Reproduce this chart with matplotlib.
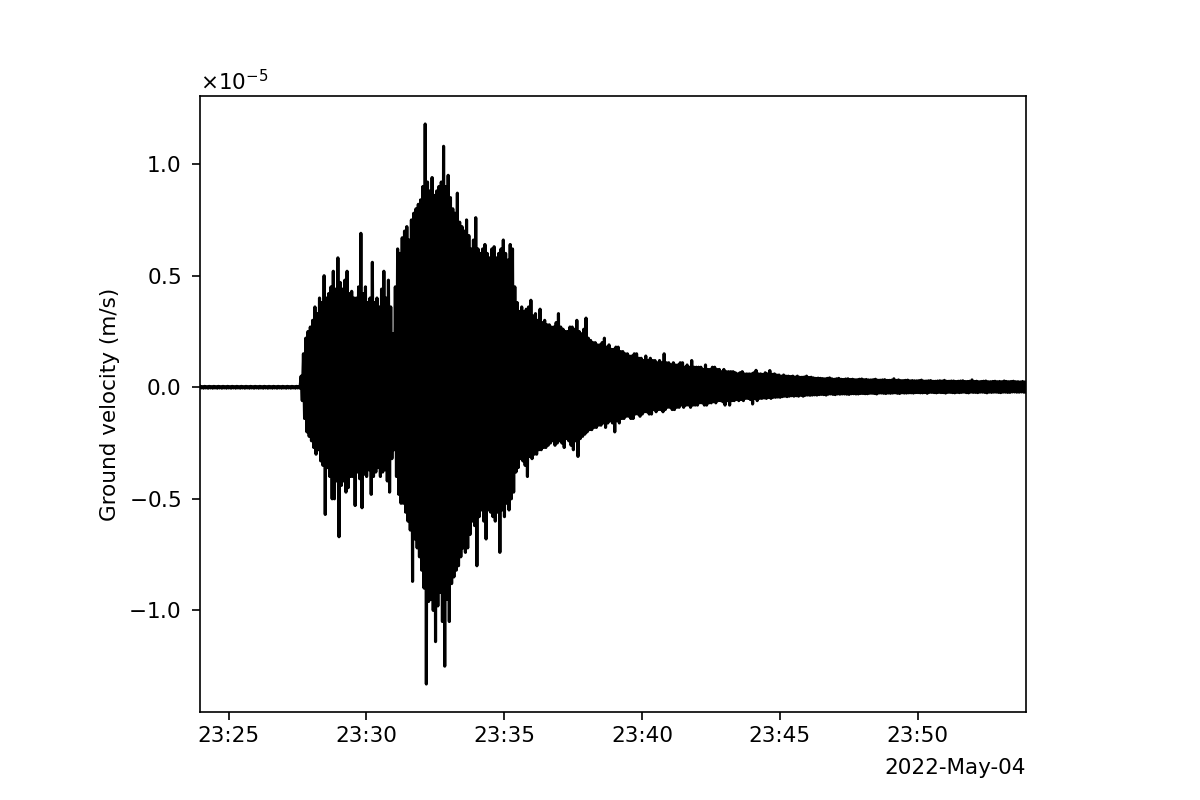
import numpy as np
import matplotlib
matplotlib.use("Agg")
import matplotlib.pyplot as plt
import matplotlib.dates as mdates


# trace start and spacing between successive positive peaks
start = np.datetime64("2022-05-04T23:23:58")
step_ms = 5000

# positive peaks of the trace (1e-5 m/s), one row per minute
upper = [
    0.004, 0.003, 0.004, 0.003, 0.004, 0.003, 0.004, 0.003, 0.004, 0.003, 0.004, 0.003,
    0.004, 0.003, 0.004, 0.003, 0.004, 0.003, 0.004, 0.003, 0.004, 0.003, 0.004, 0.003,
    0.004, 0.003, 0.004, 0.003, 0.004, 0.003, 0.004, 0.003, 0.004, 0.003, 0.004, 0.003,
    0.004, 0.003, 0.004, 0.003, 0.004, 0.003, 0.004, 0.003, 0.05, 0.15, 0.22, 0.25,
    0.27, 0.30, 0.36, 0.33, 0.40, 0.38, 0.50, 0.40, 0.42, 0.45, 0.52, 0.44,
    0.58, 0.47, 0.44, 0.48, 0.52, 0.42, 0.43, 0.40, 0.40, 0.45, 0.69, 0.42,
    0.45, 0.38, 0.40, 0.56, 0.38, 0.40, 0.36, 0.44, 0.52, 0.40, 0.48, 0.36,
    0.24, 0.45, 0.62, 0.60, 0.67, 0.70, 0.72, 0.66, 0.75, 0.78, 0.80, 0.82,
    0.84, 0.90, 1.18, 0.92, 0.88, 0.94, 0.86, 0.88, 0.90, 0.92, 1.08, 0.90,
    0.95, 0.85, 0.80, 0.78, 0.87, 0.74, 0.72, 0.70, 0.75, 0.68, 0.62, 0.66,
    0.76, 0.62, 0.60, 0.62, 0.64, 0.60, 0.58, 0.62, 0.63, 0.58, 0.60, 0.62,
    0.66, 0.60, 0.57, 0.64, 0.62, 0.45, 0.38, 0.34, 0.36, 0.34, 0.35, 0.36,
    0.39, 0.32, 0.33, 0.30, 0.35, 0.29, 0.30, 0.28, 0.28, 0.27, 0.27, 0.29,
    0.33, 0.27, 0.26, 0.25, 0.25, 0.27, 0.27, 0.26, 0.30, 0.25, 0.24, 0.26,
    0.31, 0.22, 0.21, 0.20, 0.20, 0.19, 0.19, 0.20, 0.22, 0.18, 0.19, 0.17,
    0.17, 0.18, 0.18, 0.16, 0.16, 0.15, 0.15, 0.14, 0.14, 0.15, 0.15, 0.13,
    0.13, 0.12, 0.14, 0.12, 0.13, 0.12, 0.12, 0.11, 0.12, 0.11, 0.15, 0.11,
    0.11, 0.10, 0.11, 0.10, 0.10, 0.11, 0.11, 0.09, 0.10, 0.09, 0.12, 0.09,
    0.09, 0.09, 0.09, 0.08, 0.10, 0.08, 0.08, 0.09, 0.09, 0.08, 0.08, 0.07,
    0.08, 0.07, 0.07, 0.07, 0.07, 0.065, 0.06, 0.065, 0.07, 0.06, 0.06, 0.06,
    0.06, 0.065, 0.076, 0.06, 0.06, 0.058, 0.065, 0.06, 0.075, 0.058, 0.06, 0.055,
    0.055, 0.05, 0.055, 0.05, 0.05, 0.048, 0.05, 0.046, 0.05, 0.045, 0.045, 0.046,
    0.05, 0.044, 0.045, 0.042, 0.04, 0.041, 0.040, 0.039, 0.038, 0.040, 0.042, 0.038,
    0.036, 0.038, 0.040, 0.036, 0.035, 0.037, 0.038, 0.035, 0.036, 0.034, 0.034, 0.036,
    0.037, 0.034, 0.035, 0.033, 0.033, 0.034, 0.036, 0.032, 0.032, 0.033, 0.034, 0.031,
    0.031, 0.032, 0.038, 0.031, 0.033, 0.030, 0.030, 0.031, 0.032, 0.029, 0.030, 0.029,
    0.029, 0.030, 0.032, 0.028, 0.028, 0.029, 0.030, 0.027, 0.027, 0.028, 0.029, 0.028,
    0.031, 0.027, 0.027, 0.028, 0.028, 0.026, 0.027, 0.028, 0.029, 0.026, 0.026, 0.027,
    0.033, 0.026, 0.027, 0.025, 0.026, 0.027, 0.028, 0.025, 0.025, 0.026, 0.027, 0.025,
    0.026, 0.025, 0.028, 0.026, 0.025, 0.026, 0.027, 0.025, 0.025, 0.024, 0.026, 0.024,
]

# negative peaks of the trace (1e-5 m/s), one row per minute
lower = [
    -0.003, -0.004, -0.003, -0.004, -0.003, -0.004, -0.003, -0.004, -0.003, -0.004, -0.003, -0.004,
    -0.003, -0.004, -0.003, -0.004, -0.003, -0.004, -0.003, -0.004, -0.003, -0.004, -0.003, -0.004,
    -0.003, -0.004, -0.003, -0.004, -0.003, -0.004, -0.003, -0.004, -0.003, -0.004, -0.003, -0.004,
    -0.003, -0.004, -0.003, -0.004, -0.003, -0.004, -0.003, -0.004, -0.06, -0.14, -0.20, -0.22,
    -0.24, -0.27, -0.30, -0.28, -0.33, -0.35, -0.57, -0.36, -0.40, -0.50, -0.50, -0.42,
    -0.67, -0.44, -0.42, -0.47, -0.45, -0.40, -0.40, -0.53, -0.38, -0.41, -0.54, -0.39,
    -0.40, -0.37, -0.48, -0.40, -0.38, -0.36, -0.40, -0.38, -0.37, -0.42, -0.47, -0.32,
    -0.28, -0.40, -0.48, -0.52, -0.52, -0.56, -0.60, -0.64, -0.87, -0.68, -0.72, -0.76,
    -0.82, -0.90, -1.33, -0.96, -0.95, -1.00, -1.14, -0.98, -0.92, -1.05, -1.25, -0.95,
    -1.05, -0.88, -0.85, -0.82, -0.80, -0.76, -0.72, -0.74, -0.72, -0.66, -0.60, -0.62,
    -0.80, -0.58, -0.55, -0.60, -0.68, -0.55, -0.56, -0.58, -0.60, -0.56, -0.74, -0.55,
    -0.58, -0.52, -0.55, -0.50, -0.47, -0.38, -0.36, -0.32, -0.33, -0.35, -0.40, -0.31,
    -0.32, -0.30, -0.30, -0.28, -0.28, -0.27, -0.27, -0.26, -0.25, -0.24, -0.26, -0.25,
    -0.24, -0.25, -0.27, -0.23, -0.24, -0.26, -0.28, -0.24, -0.31, -0.23, -0.22, -0.21,
    -0.20, -0.19, -0.19, -0.18, -0.18, -0.17, -0.17, -0.16, -0.18, -0.16, -0.15, -0.16,
    -0.20, -0.15, -0.16, -0.14, -0.14, -0.13, -0.13, -0.14, -0.14, -0.12, -0.12, -0.13,
    -0.12, -0.11, -0.11, -0.12, -0.12, -0.10, -0.11, -0.10, -0.10, -0.11, -0.10, -0.09,
    -0.09, -0.10, -0.10, -0.09, -0.09, -0.08, -0.09, -0.08, -0.08, -0.09, -0.08, -0.08,
    -0.08, -0.07, -0.07, -0.08, -0.08, -0.07, -0.07, -0.065, -0.07, -0.06, -0.06, -0.065,
    -0.08, -0.06, -0.08, -0.06, -0.06, -0.055, -0.06, -0.055, -0.06, -0.05, -0.05, -0.055,
    -0.075, -0.05, -0.06, -0.05, -0.05, -0.048, -0.05, -0.046, -0.05, -0.045, -0.045, -0.044,
    -0.045, -0.042, -0.04, -0.042, -0.04, -0.038, -0.04, -0.038, -0.04, -0.036, -0.04, -0.036,
    -0.035, -0.036, -0.035, -0.034, -0.035, -0.033, -0.032, -0.033, -0.035, -0.031, -0.030, -0.032,
    -0.033, -0.030, -0.031, -0.030, -0.030, -0.031, -0.032, -0.029, -0.029, -0.030, -0.030, -0.028,
    -0.028, -0.029, -0.029, -0.027, -0.027, -0.028, -0.030, -0.026, -0.026, -0.027, -0.028, -0.026,
    -0.027, -0.026, -0.025, -0.027, -0.028, -0.025, -0.026, -0.026, -0.025, -0.025, -0.026, -0.024,
    -0.024, -0.025, -0.025, -0.024, -0.027, -0.023, -0.023, -0.024, -0.025, -0.023, -0.024, -0.024,
    -0.026, -0.023, -0.023, -0.024, -0.025, -0.023, -0.024, -0.023, -0.022, -0.024, -0.025, -0.022,
    -0.023, -0.023, -0.024, -0.022, -0.022, -0.023, -0.025, -0.022, -0.023, -0.022, -0.022, -0.023,
    -0.024, -0.022, -0.022, -0.023, -0.023, -0.021, -0.021, -0.022, -0.022, -0.021, -0.022, -0.021,
]

n = len(upper)
t_up = start + np.arange(n) * np.timedelta64(step_ms, "ms")
t_lo = t_up + np.timedelta64(step_ms // 2, "ms")

# interleave positive and negative peaks into one trace
times = np.empty(2 * n, dtype="datetime64[ms]")
times[0::2] = t_up
times[1::2] = t_lo
vel = np.empty(2 * n)
vel[0::2] = np.array(upper) * 1e-5
vel[1::2] = np.array(lower) * 1e-5
times = times.astype(object)

plt.rcParams["font.size"] = 10.3
fig = plt.figure(figsize=(8, 16 / 3), dpi=150)
ax = fig.add_axes([0.1667, 0.11, 0.6883, 0.77])

ax.plot(times, vel, color="black", lw=1.5)
ax.set_xlim(times[0], times[-1])

locator = mdates.MinuteLocator(byminute=range(0, 60, 5))
ax.xaxis.set_major_locator(locator)
ax.xaxis.set_major_formatter(mdates.ConciseDateFormatter(locator))
ax.xaxis.OFFSETTEXTPAD = 5.5

fmt = matplotlib.ticker.ScalarFormatter(useMathText=True)
fmt.set_powerlimits((-3, 3))
ax.yaxis.set_major_formatter(fmt)
ax.tick_params(axis="both", length=3.8)
ax.tick_params(axis="y", pad=5.3)
ax.tick_params(axis="x", pad=3.0)
ax.set_ylabel("Ground velocity (m/s)")

fig.savefig("out.png", dpi=150)
